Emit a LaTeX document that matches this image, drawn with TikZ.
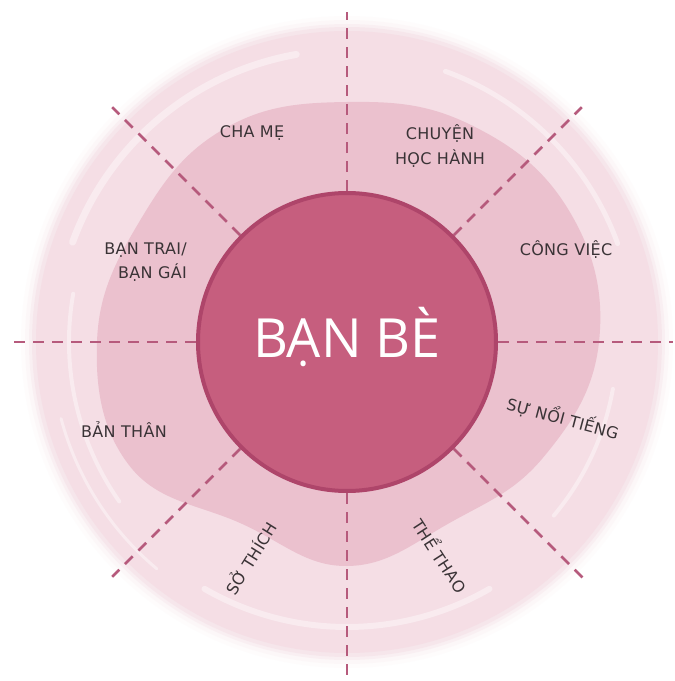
\documentclass[tikz,border=0pt]{standalone}
\usepackage{fontspec}
\setmainfont{Open Sans}
\newfontfamily\lblfont{DejaVu Sans}[LetterSpace=2]
\usetikzlibrary{calc}
\definecolor{outerpink}{HTML}{F5DEE5}
\definecolor{midpink}{HTML}{EBC1CE}
\definecolor{corepink}{HTML}{C65E7E}
\definecolor{coreedge}{HTML}{AE456A}
\definecolor{dashcol}{HTML}{B65A7C}
\definecolor{txt}{HTML}{3A3336}
\tikzset{
  dashline/.style={draw=dashcol, line width=2.5pt, dash pattern=on 11pt off 8pt},
  lbl/.style={text=txt, font=\lblfont\fontsize{16}{24.5}\selectfont, align=center, inner sep=1pt},
  corebox/.style={circle, fill=corepink, draw=coreedge, line width=4pt, minimum size=298pt, inner sep=0pt},
  streak/.style={draw=white, opacity=0.4, line cap=round}
}
\begin{document}
\begin{tikzpicture}[x=1pt,y=1pt]
\useasboundingbox (-347,-339) rectangle (328,342);
\fill[white] (-347,-339) rectangle (328,342);
% soft halo and outer ring
\foreach \r/\o in {326/0.08,322/0.15,318/0.3,315/0.5}{
  \fill[outerpink, opacity=\o] (0,0) circle (\r);
}
\fill[outerpink] (0,0) circle (311);
% brush streaks in outer ring
\draw[streak, line width=7pt] (100:292) arc (100:160:292);
\draw[streak, line width=4pt] (170:278) arc (170:215:278);
\draw[streak, line width=5pt] (20:288) arc (20:70:288);
\draw[streak, line width=4pt] (-10:270) arc (-10:-40:270);
\draw[streak, line width=6pt] (-60:285) arc (-60:-120:285);
\draw[streak, line width=3pt] (-130:296) arc (-130:-165:296);
% middle blob
\fill[midpink] plot[smooth cycle, tension=0.7] coordinates {
  (0:252) (30:258) (60:250) (90:240) (120:246) (150:240)
  (180:250) (210:250) (240:210) (270:224) (300:208) (330:228)};
% core
\node[corebox] (c) at (0,0) {};
% dashed spokes
\coordinate (e0) at (0:326);
\coordinate (e45) at (45:332);
\coordinate (e90) at (90:330);
\coordinate (e135) at (135:332);
\coordinate (e180) at (180:335);
\coordinate (e225) at (225:332);
\coordinate (e270) at (270:342);
\coordinate (e315) at (315:335);
\foreach \a in {0,45,90,135,180,225,270,315}{
  \draw[dashline] (c.\a) -- (e\a);
}
% centre title
\node[text=white, font=\fontsize{54}{60}\selectfont] (title) at (0,5) {BẠN BÈ};
% labels
\node[lbl] (chame) at (-95,209) {CHA MẸ};
\node[lbl] (hoc) at (93,196) {CHUYỆN\\HỌC HÀNH};
\node[lbl] (congviec) at (219,92) {CÔNG VIỆC};
\node[lbl, align=right, anchor=east] (bantrai) at (-159,80) {BẠN TRAI/\\BẠN GÁI};
\node[lbl] (banthan) at (-223,-88) {BẢN THÂN};
\node[lbl, rotate=-15] (noitieng) at (216,-76) {SỰ NỔI TIẾNG};
\node[lbl, rotate=-57] (thethao) at (94,-213) {THỂ THAO};
\node[lbl, rotate=58] (sothich) at (-97,-216) {SỞ THÍCH};
\end{tikzpicture}
\end{document}
